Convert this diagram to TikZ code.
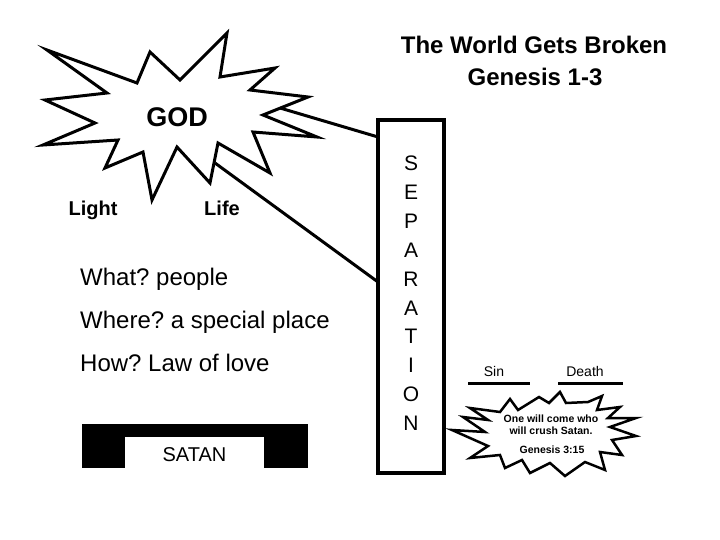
\documentclass[tikz,border=0pt]{standalone}
\usepackage{fontspec}
\setmainfont{Liberation Sans}
\newcommand\myfs[1]{\fontsize{#1}{#1}\selectfont}
\frenchspacing
\begin{document}
\frenchspacing
\begin{tikzpicture}[x=1pt,y=-1pt,
  txt/.style={inner sep=0pt, anchor=base},
  outline/.style={draw=black, line width=3pt, line join=miter},
  conn/.style={draw=black, line width=3pt},
  letter/.style={inner sep=0pt, anchor=base, font=\myfs{21}}]
\useasboundingbox (0,0) rectangle (720,540);
\fill[white] (0,0) rectangle (720,540);

% big starburst
\draw[outline] (47,50) -- (137,83) -- (150,52) -- (180,80) -- (227,33) -- (220,77)
  -- (275,68) -- (250,90) -- (308,97) -- (263,115) -- (317,137) -- (253,132)
  -- (270,173) -- (218,143) -- (210,183) -- (177,147) -- (152,200) -- (143,152)
  -- (105,168) -- (118,140) -- (43,145) -- (95,123) -- (45,100) -- (107,93) -- cycle;
\node[txt, font=\bfseries\myfs{27}] (god) at (177,127) {GOD};
\node[txt, font=\bfseries\myfs{20}] (light) at (93,215) {Light};
\node[txt, font=\bfseries\myfs{20}] (life) at (222,215) {Life};

% title
\node[txt, font=\bfseries\myfs{24}] (t1) at (534,54) {The World Gets Broken};
\node[txt, font=\bfseries\myfs{24}] (t2) at (535,86) {Genesis 1-3};

% left texts
\node[txt, anchor=base west, font=\myfs{24}] (what) at (80,285) {What? people};
\node[txt, anchor=base west, font=\myfs{24}] (where) at (80,328) {Where? a special place};
\node[txt, anchor=base west, font=\myfs{24}] (how) at (80,371) {How? Law of love};

% SATAN box
\fill[black] (82,424) rectangle (308,468);
\fill[white] (125,437) rectangle (264,468);
\node[txt, font=\myfs{20}] (satan) at (194.5,461) {SATAN};

% separation box
\node[draw=black, line width=4pt, minimum width=66pt, minimum height=353pt, inner sep=0pt] (sep) at (411,296.5) {};
\foreach \l [count=\i from 0] in {S,E,P,A,R,A,T,I,O,N}{
  \node[letter] (L\i) at (411,{170.5+28.9*\i}) {\l};
}

% connectors
\coordinate (gA) at (280,108);
\coordinate (gB) at (215,163);
\coordinate (sA) at (378,137);
\coordinate (sB) at (378,282);
\draw[conn] (gA) -- (sA);
\draw[conn] (gB) -- (sB);

% Sin / Death
\node[txt, font=\myfs{14}] (sin) at (494,376) {Sin};
\node[txt, font=\myfs{14}] (death) at (585,376) {Death};
\coordinate (u1a) at (468,383); \coordinate (u1b) at (530,383);
\coordinate (u2a) at (558,383); \coordinate (u2b) at (623,383);
\draw[conn] (u1a) -- (u1b);
\draw[conn] (u2a) -- (u2b);

% small starburst
\draw[outline, line width=2.5pt] (510,399) -- (518,410) -- (539,397) -- (549,403) -- (560,392)
  -- (566,403) -- (588,402) -- (602,396) -- (597,410) -- (620,407) -- (608,418)
  -- (636,418) -- (610,427) -- (636,436) -- (612,440) -- (622,455) -- (600,452)
  -- (605,470) -- (585,462) -- (565,476) -- (550,463) -- (530,473) -- (522,460)
  -- (505,468) -- (500,455) -- (470,458) -- (488,446) -- (452,430) -- (485,432)
  -- (463,417) -- (488,420) -- (470,408) -- (500,412) -- cycle;
\node[txt, font=\bfseries\myfs{10.5}] (one) at (551,422) {One will come who};
\node[txt, font=\bfseries\myfs{10.5}] (crush) at (551,434) {will crush Satan.};
\node[txt, font=\bfseries\myfs{10.5}] (gen) at (552,453) {Genesis 3:15};
\end{tikzpicture}
\end{document}
